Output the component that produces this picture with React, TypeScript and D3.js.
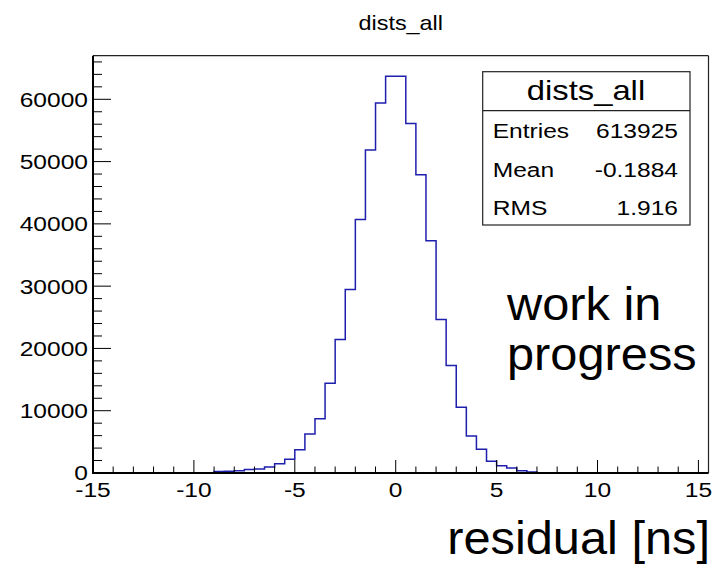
import React from "react";
import * as d3 from "d3";

// histogram: 0.5 wide bins starting at -15
const binStart = -15;
const binWidth = 0.5;
const counts = [
  0, 0, 0, 10, 20, 30, 20, 10, 10, 20, 30, 60,
  250, 300, 350, 560, 650, 950, 1500, 2200, 3750, 6250, 8700, 14400,
  21450, 29450, 40700, 51850, 59400, 63700, 63700, 56100, 47900, 37300, 24650, 17250,
  10550, 5950, 3800, 1900, 1180, 800, 380, 160, 60, 30, 20, 10,
  0, 0, 0, 0, 0, 0, 0, 0, 0, 0, 0, 0, 0,
];

const xMajor = [-15, -10, -5, 0, 5, 10, 15];
const yMajor = [0, 10000, 20000, 30000, 40000, 50000, 60000];

const title = "dists_all";
const statsRows = [
  ["Entries", "613925"],
  ["Mean", "-0.1884"],
  ["RMS", "1.916"],
];

const W = 719;
const H = 567;
const FONT = "'Liberation Sans', Arial, Helvetica, sans-serif";

// stretched text (the reference renders glyphs wider than normal)
const T = ({ x, y, size, sx = 1.17, anchor = "start", children }: any) => (
  <text
    transform={`translate(${x},${y}) scale(${sx},1)`}
    fontSize={size}
    fontFamily={FONT}
    textAnchor={anchor}
    fill="#000"
  >
    {children}
  </text>
);

export default function App() {
  const x = d3.scaleLinear().domain([-15, 15.5]).range([93, 708.5]);
  const y = d3.scaleLinear().domain([0, 67000]).range([473, 55.7]);

  const pts: [number, number][] = counts.map((c, i) => [binStart + i * binWidth, c]);
  pts.push([binStart + counts.length * binWidth, counts[counts.length - 1]]);
  const line = d3
    .line<[number, number]>()
    .x((d) => x(d[0]))
    .y((d) => y(d[1]))
    .curve(d3.curveStepAfter);

  const xMinor = d3.range(-15, 15.01, 1).filter((v) => !xMajor.includes(v));
  const yMinor = d3.range(0, 67000, 2000).filter((v) => v % 10000 !== 0);

  const [x0, x1] = x.range();
  const [y0, y1] = y.range();

  return (
    <svg
      width={W}
      height={H}
      style={{ position: "absolute", left: 0, top: 0, background: "#fff" }}
    >
      <rect width={W} height={H} fill="#fff" />
      <T x={(x0 + x1) / 2} y={29.5} size={20} anchor="middle">
        {title}
      </T>

      {/* histogram outline */}
      <path d={line(pts) || ""} fill="none" stroke="#1f1fae" strokeWidth={1.5} />

      {/* frame */}
      <line x1={x0} x2={x1} y1={y1} y2={y1} stroke="#222" strokeWidth={1.2} />
      <line x1={x1} x2={x1} y1={y1} y2={y0} stroke="#222" strokeWidth={1.2} />
      <line x1={x0} x2={x0} y1={y1} y2={y0 + 1} stroke="#000" strokeWidth={2} />
      <line x1={x0} x2={x1} y1={y0} y2={y0} stroke="#000" strokeWidth={2} />

      {/* x ticks */}
      {xMajor.map((v) => (
        <g key={"xm" + v}>
          <line x1={x(v)} x2={x(v)} y1={y0} y2={y0 - 13} stroke="#000" strokeWidth={1} />
          <T x={x(v)} y={497} size={21} anchor="middle">
            {v}
          </T>
        </g>
      ))}
      {xMinor.map((v) => (
        <line key={"xn" + v} x1={x(v)} x2={x(v)} y1={y0} y2={y0 - 6.5} stroke="#000" strokeWidth={1} />
      ))}

      {/* y ticks */}
      {yMajor.map((v) => (
        <g key={"ym" + v}>
          <line x1={x0} x2={x0 + 18} y1={y(v)} y2={y(v)} stroke="#000" strokeWidth={1} />
          <T x={88} y={y(v) + (v === 0 ? 6.5 : 7.5)} size={21} anchor="end">
            {v}
          </T>
        </g>
      ))}
      {yMinor.map((v) => (
        <line key={"yn" + v} x1={x0} x2={x0 + 9} y1={y(v)} y2={y(v)} stroke="#000" strokeWidth={1} />
      ))}

      {/* stats box */}
      <rect x={482.7} y={71.7} width={207.3} height={153.3} fill="#fff" stroke="#222" strokeWidth={1.2} />
      <line x1={482.7} x2={690} y1={110.7} y2={110.7} stroke="#222" strokeWidth={1.2} />
      <T x={586} y={99.5} size={28} anchor="middle">
        {title}
      </T>
      {statsRows.map((r, i) => (
        <g key={r[0]}>
          <T x={492.7} y={138 + i * 38.5} size={21}>
            {r[0]}
          </T>
          <T x={678} y={138 + i * 38.5} size={21} anchor="end">
            {r[1]}
          </T>
        </g>
      ))}

      {/* annotations */}
      <T x={507} y={320} size={46} sx={1.06}>
        work in
      </T>
      <T x={507} y={370} size={46} sx={1.06}>
        progress
      </T>
      <T x={710} y={554} size={46} sx={1.06} anchor="end">
        residual [ns]
      </T>
    </svg>
  );
}
